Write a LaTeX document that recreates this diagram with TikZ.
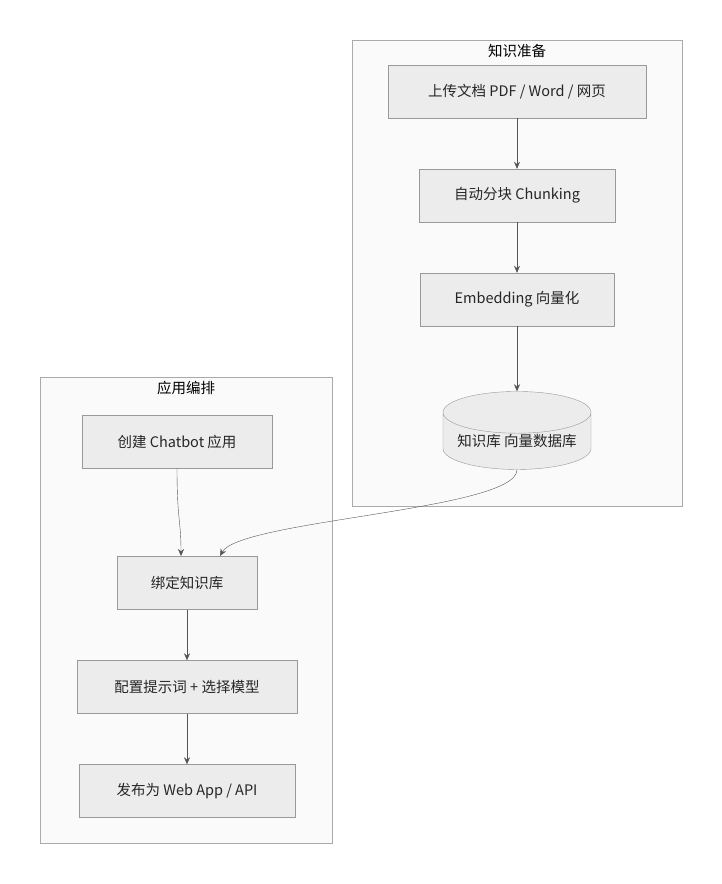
\documentclass[tikz,border=0pt]{standalone}
\usepackage{fontspec}
\setmainfont{Noto Sans CJK SC}
\usetikzlibrary{positioning,shapes.geometric,arrows.meta}
\definecolor{boxfill}{HTML}{ECECEC}
\definecolor{boxline}{HTML}{999999}
\definecolor{clusterfill}{HTML}{FAFAFA}
\definecolor{clusterline}{HTML}{AAAAAA}
\definecolor{arrowcolor}{HTML}{555555}

\begin{document}
\begin{tikzpicture}[x=1pt, y=-1pt, font=\fontsize{14.5}{17}\selectfont,
                    task/.style = {draw = boxline,
                                   fill = boxfill,
                                   text = black!85,
                                   minimum height = 53pt,
                                   inner sep = 0pt},
                    store/.style = {cylinder,
                                    shape border rotate = 90,
                                    aspect = 0.35,
                                    draw = boxline,
                                    fill = boxfill,
                                    text = black!85,
                                    minimum width = 148pt,
                                    minimum height = 78pt,
                                    inner sep = 0pt},
                    cluster/.style = {draw = clusterline,
                                      fill = clusterfill},
                    flow/.style = {-{Stealth[length=7pt, width=6pt]},
                                   draw = arrowcolor}]

\useasboundingbox (0,0) rectangle (722,884);

% clusters
\draw[cluster] (352,40) rectangle (682,506);
\node (prepT) at (517,51) {知识准备};
\draw[cluster] (40,377) rectangle (332,843);
\node (appT) at (186,388) {应用编排};

% knowledge preparation
\node[task, minimum width = 258pt] (upload) at (517,91.5) {上传文档 PDF / Word / 网页};
\node[task, minimum width = 196pt] (chunk) at (517,195.5) {自动分块 Chunking};
\node[task, minimum width = 194pt] (embed) at (517,299.5) {Embedding 向量化};
\node[store] (kb) at (517,441) {知识库 向量数据库};

% application
\node[task, minimum width = 190pt] (create) at (177,441.5) {创建 Chatbot 应用};
\node[task, minimum width = 140pt] (bind) at (187,583) {绑定知识库};
\node[task, minimum width = 220pt] (prompt) at (187,687) {配置提示词 + 选择模型};
\node[task, minimum width = 216pt] (publish) at (187,791) {发布为 Web App / API};

\draw[flow] (upload) -- (chunk);
\draw[flow] (chunk) -- (embed);
\draw[flow] (embed) -- (kb);
\draw[flow] (create.south) .. controls (177,520) and (181,520) .. (181,556);
\draw[flow] (kb.south) .. controls (517,510) and (240,520) .. (220,556);
\draw[flow] (bind) -- (prompt);
\draw[flow] (prompt) -- (publish);

\end{tikzpicture}
\end{document}
